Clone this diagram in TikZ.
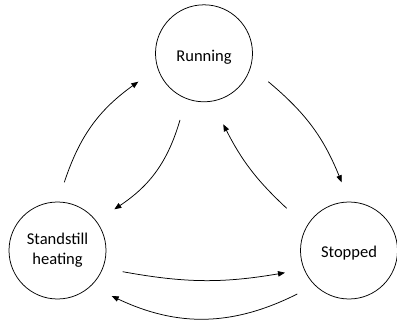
\documentclass[tikz,border=0pt]{standalone}
\usepackage{fontspec}
\setmainfont{Carlito}
\usetikzlibrary{arrows.meta}
\begin{document}
\begin{tikzpicture}[x=1pt,y=-1pt,
  state/.style={circle,draw,line width=0.75pt,minimum size=97pt,inner sep=0pt,align=center,
    font=\fontsize{16.5}{20}\selectfont},
  trans/.style={line width=0.75pt,-{Triangle[length=7pt,width=5.5pt]}}]
\useasboundingbox (0,0) rectangle (397,321);
\node[state,text height=17pt,text depth=0pt] (run) at (204,53.3) {Running};
\node[state] (still) at (57.5,250.5) {Standstill\\heating};
\node[state,text height=15pt,text depth=0pt] (stop) at (349,250.5) {Stopped};
\coordinate (a1s) at (64.3,182.3);
\coordinate (a1e) at (138.3,81.7);
\coordinate (a2s) at (180,120);
\coordinate (a2e) at (114.3,209.3);
\coordinate (a3s) at (268.3,81.7);
\coordinate (a3e) at (341.7,182.3);
\coordinate (a4s) at (286.7,208.3);
\coordinate (a4e) at (223.3,124.3);
\coordinate (a5s) at (122.7,271.7);
\coordinate (a5e) at (285,272.7);
\coordinate (a6s) at (297.3,294);
\coordinate (a6e) at (111.7,296);
\draw[trans] (a1s) to[bend left=18] (a1e);
\draw[trans] (a2s) to[bend left=20] (a2e);
\draw[trans] (a3s) to[bend left=14] (a3e);
\draw[trans] (a4s) to[bend left=10] (a4e);
\draw[trans] (a5s) to[bend right=10] (a5e);
\draw[trans] (a6s) to[bend left=26] (a6e);
\end{tikzpicture}
\end{document}
